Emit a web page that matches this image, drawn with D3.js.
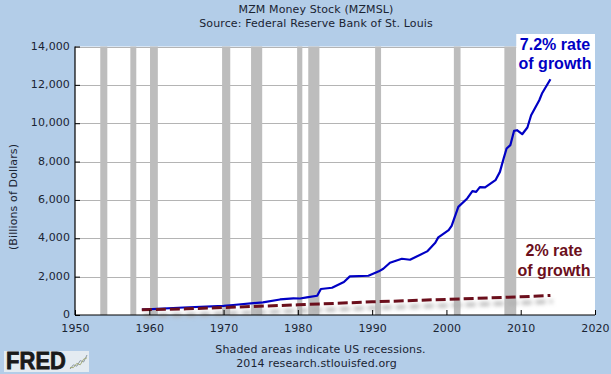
<!DOCTYPE html>
<html>
<head>
<meta charset="utf-8">
<script src="https://cdn.jsdelivr.net/npm/d3@7"></script>
<style>
  html, body { margin: 0; padding: 0; background: #b3cde8; }
  svg { display: block; }
  text { font-family: "DejaVu Sans", Verdana, sans-serif; fill: #1a2433; letter-spacing: 0.12px; }
</style>
</head>
<body>
<svg id="chart" width="611" height="374"></svg>
<script>
// MZM, billions of dollars
const mzmYears  = [1959, 1964.6, 1970, 1971.3, 1975.3, 1977.6, 1979.4, 1980.3, 1981.2, 1982.6, 1983.1, 1984.6, 1986.2, 1987,
                   1989.5, 1990.9, 1991.5, 1992.4, 1994, 1995.1, 1997.4, 1998.5, 1998.9, 1999.2, 2000.3, 2000.7,
                   2001.6, 2002.8, 2003.5, 2004, 2004.5, 2005.2, 2006.6, 2007.2, 2007.7, 2008.1, 2008.6, 2009.1,
                   2009.5, 2010.2, 2010.9, 2011.4, 2012.5, 2012.9, 2014];
const mzmValues = [280, 390, 480, 520, 660, 810, 870, 860, 920, 1005, 1354, 1422, 1719, 2015,
                   2047, 2276, 2411, 2724, 2932, 2880, 3317, 3765, 4047, 4130, 4427, 4650,
                   5640, 6078, 6458, 6422, 6666, 6650, 7031, 7463, 8160, 8682, 8854, 9599,
                   9635, 9427, 9776, 10417, 11198, 11578, 12292];

// hand drawn 2% line
const refYears  = [1959, 1965, 1970, 1980, 1990, 2000, 2010, 2014];
const refValues = [270, 320, 390, 530, 685, 815, 950, 1020];

const recessionStart = [1953.4, 1957.45, 1960.1, 1969.8, 1973.7, 1979.9, 1981.4, 1990.4, 2001.0, 2007.8];
const recessionEnd   = [1954.35, 1958.25, 1961.15, 1970.9, 1975.2, 1980.6, 1982.9, 1991.2, 2001.9, 2009.4];

const xTicks = [1950, 1960, 1970, 1980, 1990, 2000, 2010, 2020];
const yTicks = [0, 2000, 4000, 6000, 8000, 10000, 12000, 14000];

const titleLines  = ["MZM Money Stock (MZMSL)", "Source: Federal Reserve Bank of St. Louis"];
const footerLines = ["Shaded areas indicate US recessions.", "2014 research.stlouisfed.org"];
const yTitle      = "(Billions of Dollars)";
const blueNote    = ["7.2% rate", "of growth"];
const redNote     = ["2% rate", "of growth"];

// little sparkline in the logo
const logoLine1 = [0, 3, 2, 6, 5, 10];
const logoLine2 = [1, 1, 4, 3, 7, 8];

const svg = d3.select("#chart");

const plotLeft = 75, plotRight = 595, plotTop = 46.5, plotBottom = 315;
const blue = "#0000c4", red = "#6b0f1c";

const x = d3.scaleLinear().domain([1950, 2020]).range([plotLeft, plotRight]);
const y = d3.scaleLinear().domain([0, 14000]).range([plotBottom, plotTop]);

svg.append("rect").attr("width", 611).attr("height", 374).attr("fill", "#b3cde8");
svg.append("rect")
  .attr("x", plotLeft).attr("y", plotTop)
  .attr("width", plotRight - plotLeft).attr("height", plotBottom - plotTop)
  .attr("fill", "#fff");

// grid sits under the recession bars
svg.append("g").selectAll("line")
  .data(yTicks.slice(1))
  .enter().append("line")
    .attr("x1", plotLeft).attr("x2", plotRight)
    .attr("y1", d => Math.round(y(d)) + 0.5).attr("y2", d => Math.round(y(d)) + 0.5)
    .attr("stroke", "#b4b4b4");

svg.append("g").selectAll("rect")
  .data(recessionStart)
  .enter().append("rect")
    .attr("x", d => x(d))
    .attr("y", plotTop)
    .attr("width", (d, i) => x(recessionEnd[i]) - x(d))
    .attr("height", plotBottom - plotTop)
    .attr("fill", "#bdbdbd");

// white box behind the top note, pokes out above the plot
svg.append("rect")
  .attr("x", x(2009.4)).attr("y", 34)
  .attr("width", plotRight - x(2009.4)).attr("height", 34)
  .attr("fill", "#fff");

const defs = svg.append("defs");
defs.append("filter").attr("id", "soft")
  .attr("x", "-5%").attr("y", "-300%").attr("width", "110%").attr("height", "700%")
  .append("feGaussianBlur").attr("stdDeviation", 2);

const refLine = d3.line().x((d, i) => x(refYears[i])).y(d => y(d));

// shadow of the dashed line
svg.append("path")
  .attr("d", refLine(refValues))
  .attr("transform", "translate(2,6)")
  .attr("fill", "none")
  .attr("stroke", "#b0b0b0")
  .attr("stroke-width", 3.5)
  .attr("stroke-dasharray", "10 4")
  .attr("filter", "url(#soft)");

const mzmLine = d3.line().x((d, i) => x(mzmYears[i])).y(d => y(d));

svg.append("path")
  .attr("d", mzmLine(mzmValues))
  .attr("fill", "none")
  .attr("stroke", blue)
  .attr("stroke-width", 2.2)
  .attr("stroke-linejoin", "round");

svg.append("path")
  .attr("d", refLine(refValues))
  .attr("fill", "none")
  .attr("stroke", red)
  .attr("stroke-width", 3)
  .attr("stroke-dasharray", "10 4");

// axes
const yAxis = svg.append("g")
  .attr("transform", `translate(${plotLeft},0)`)
  .call(d3.axisLeft(y).tickValues(yTicks).tickFormat(d3.format(",")).tickSize(-5).tickPadding(5));
const xAxis = svg.append("g")
  .attr("transform", `translate(0,${plotBottom})`)
  .call(d3.axisBottom(x).tickValues(xTicks).tickFormat(d3.format("d")).tickSize(-5).tickPadding(9));

[yAxis, xAxis].forEach(a => {
  a.select(".domain").attr("stroke", "#000").attr("stroke-width", 1.2);
  a.selectAll(".tick line").attr("stroke", "#000");
  a.selectAll(".tick text")
    .attr("font-size", 11)
    .attr("font-family", '"DejaVu Sans", Verdana, sans-serif')
    .attr("fill", "#1a2433");
});
yAxis.selectAll(".tick text").attr("y", -1);
yAxis.select(".domain").attr("d", `M0,${plotTop}V${plotBottom}`);
xAxis.select(".domain").attr("d", `M${plotLeft},0H${plotRight}`);

// titles
svg.append("g").selectAll("text")
  .data(titleLines)
  .enter().append("text")
    .attr("x", 316)
    .attr("y", (d, i) => 13 + i * 14)
    .attr("text-anchor", "middle")
    .attr("font-size", 11)
    .text(d => d);

svg.append("g").selectAll("text")
  .data(footerLines)
  .enter().append("text")
    .attr("x", (d, i) => i === 0 ? 320.5 : 316.5)
    .attr("y", (d, i) => 353 + i * 14)
    .attr("text-anchor", "middle")
    .attr("font-size", 11)
    .text(d => d);

svg.append("text")
  .attr("transform", "translate(17,197) rotate(-90)")
  .attr("text-anchor", "middle")
  .attr("font-size", 11)
  .text(yTitle);

// notes
svg.append("g").selectAll("text")
  .data(blueNote)
  .enter().append("text")
    .attr("x", 555)
    .attr("y", (d, i) => 50 + i * 18.5)
    .attr("text-anchor", "middle")
    .attr("font-size", 16)
    .attr("font-weight", "bold")
    .style("font-family", '"Liberation Sans", Arial, sans-serif')
    .style("fill", blue)
    .style("letter-spacing", 0)
    .text(d => d);

svg.append("g").selectAll("text")
  .data(redNote)
  .enter().append("text")
    .attr("x", 554)
    .attr("y", (d, i) => 256 + i * 19.5)
    .attr("text-anchor", "middle")
    .attr("font-size", 16)
    .attr("font-weight", "bold")
    .style("font-family", '"Liberation Sans", Arial, sans-serif')
    .style("fill", red)
    .style("letter-spacing", 0)
    .text(d => d);

// FRED logo
const logo = svg.append("g").attr("transform", "translate(4,351)");
logo.append("rect").attr("width", 85).attr("height", 21).attr("fill", "#e4ebf1");
logo.append("text")
  .attr("x", 2).attr("y", 18)
  .attr("font-size", 23)
  .attr("font-weight", "bold")
  .attr("textLength", 60)
  .attr("lengthAdjust", "spacingAndGlyphs")
  .style("font-family", '"Liberation Sans", Arial, sans-serif')
  .style("fill", "#1a1a1a")
  .style("stroke", "#1a1a1a")
  .style("stroke-width", 0.8)
  .text("FRED");
const lx = d3.scaleLinear().domain([0, 5]).range([66, 83]);
const ly = d3.scaleLinear().domain([0, 10]).range([18, 4]);
const logoPath = d3.line().x((d, i) => lx(i)).y(d => ly(d));
logo.append("path").attr("d", logoPath(logoLine1)).attr("fill", "none").attr("stroke", "#8b97a3");
logo.append("path").attr("d", logoPath(logoLine2)).attr("fill", "none").attr("stroke", "#a3ab78");
</script>
</body>
</html>
